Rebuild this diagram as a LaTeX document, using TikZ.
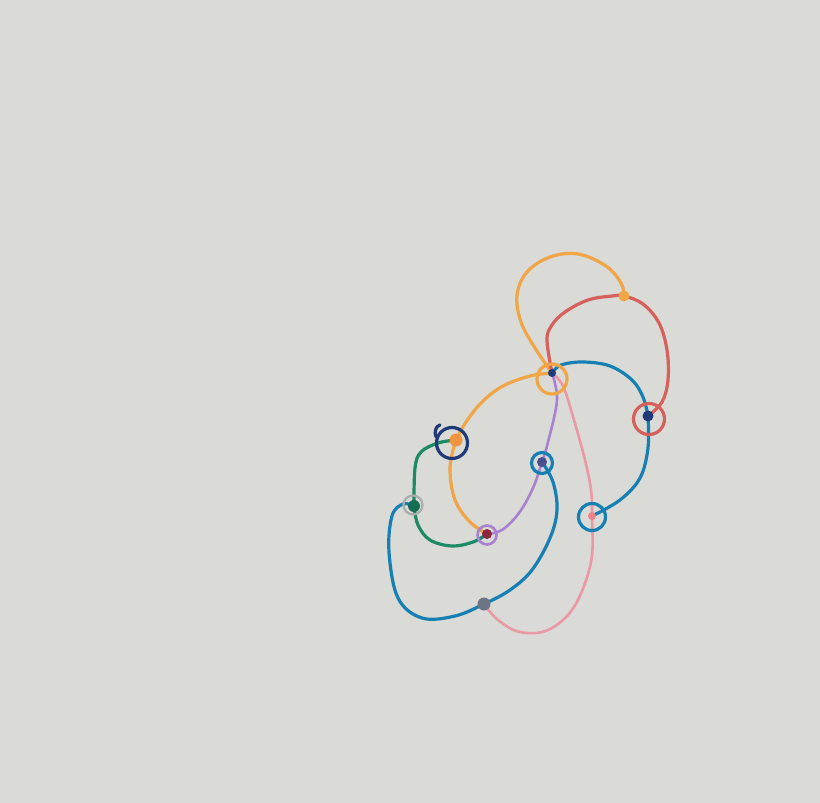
\documentclass[tikz,border=0pt]{standalone}
\usetikzlibrary{calc}
\definecolor{paper}{RGB}{218,218,214}
\definecolor{corange}{RGB}{240,165,70}
\definecolor{cred}{RGB}{214,96,92}
\definecolor{cteal}{RGB}{22,128,178}
\definecolor{cpink}{RGB}{234,152,164}
\definecolor{cpurple}{RGB}{168,130,208}
\definecolor{cgreen}{RGB}{28,138,100}
\definecolor{cnavy}{RGB}{32,58,120}
\definecolor{cgrey}{RGB}{110,116,132}
\definecolor{clgrey}{RGB}{170,172,176}
\begin{document}
\begin{tikzpicture}[x=1pt,y=-1pt,
  pen/.style={line width=3.2pt,line cap=round,line join=round},
  ring/.style={circle,draw,line width=3.2pt,inner sep=0pt},
  dot/.style={circle,fill,inner sep=0pt}]
\fill[paper] (0,0) rectangle (820,803);
\useasboundingbox (0,0) rectangle (820,803);
% junction points
\coordinate (A) at (552,373);
\coordinate (O) at (624,296);
\coordinate (B) at (648,416);
\coordinate (C) at (592,516);
\coordinate (D) at (456,440);
\coordinate (E) at (542,462);
\coordinate (F) at (487,534);
\coordinate (G) at (414,506);
\coordinate (H) at (484,604);
% curves
\draw[pen,corange] plot[smooth,tension=0.6] coordinates {(A) (535,348) (521,322) (517,295) (527,272) (550,257) (578,254) (606,266) (621,283) (O)};
\draw[pen,cred] plot[smooth,tension=0.6] coordinates {(A) (547,340) (552,325) (565,312) (588,300) (612,296) (O) (643,304) (659,323) (667,350) (668,380) (662,402) (B)};
\draw[pen,cteal] plot[smooth,tension=0.6] coordinates {(A) (561,365) (583,362) (610,366) (632,380) (643,397) (B)};
\draw[pen,cteal] plot[smooth,tension=0.6] coordinates {(B) (648,448) (640,478) (620,500) (C)};
\draw[pen,corange] plot[smooth,tension=0.6] coordinates {(A) (530,376) (503,386) (482,402) (466,422) (D)};
\draw[pen,corange] plot[smooth,tension=0.6] coordinates {(D) (450,468) (455,500) (470,522) (F)};
\draw[pen,cpink,line width=2.6pt] plot[smooth,tension=0.6] coordinates {(A) (563,386) (574,420) (585,460) (591,490) (C) (591,562) (574,607) (548,630) (520,632) (498,620) (H)};
\draw[pen,cpurple,line width=2.6pt] plot[smooth,tension=0.6] coordinates {(A) (557,400) (548,442) (E) (533,488) (519,513) (502,530) (F)};
\draw[pen,cteal] plot[smooth,tension=0.6] coordinates {(E) (553,482) (557,510) (550,538) (532,570) (510,590) (H) (455,616) (422,618) (398,598) (389,552) (392,516) (403,504) (G)};
\draw[pen,cgreen] plot[smooth,tension=0.6] coordinates {(G) (415,468) (421,452) (438,443) (D)};
\draw[pen,cgreen] plot[smooth,tension=0.6] coordinates {(G) (418,525) (430,540) (452,546) (473,542) (F)};
% rings
\node[ring,corange,minimum size=30pt] (rA) at (552,379) {};
\node[ring,cred,minimum size=31pt] (rB) at (649,419) {};
\node[ring,cteal,minimum size=27pt] (rC) at (592,517) {};
\node[ring,cnavy,minimum size=31pt] (rD) at (452,443) {};
\draw[pen,cnavy] (rD.north west) ++(0,-6) to[out=200,in=110] (436,437);
\node[ring,cteal,minimum size=21pt] (rE) at (542,463) {};
\node[ring,cpurple,minimum size=19pt,line width=2.6pt] (rF) at (487,535) {};
\node[ring,clgrey,minimum size=19pt,line width=2.2pt] (rG) at (413,505) {};
% dots
\node[dot,cnavy,minimum size=8pt] (dA) at (A) {};
\node[dot,corange,minimum size=11pt] (dO) at (O) {};
\node[dot,cnavy,minimum size=11pt] (dB) at (B) {};
\node[dot,cpink!85!red,minimum size=8pt] (dC) at (C) {};
\node[dot,corange!90!red,minimum size=13pt] (dD) at (D) {};
\node[dot,cnavy!70!cpurple,minimum size=10pt] (dE) at (E) {};
\node[dot,red!50!black!70!cpurple,minimum size=10pt] (dF) at (F) {};
\node[dot,cgreen!80!black,minimum size=12pt] (dG) at (G) {};
\node[dot,cgrey,minimum size=13pt] (dH) at (H) {};
\end{tikzpicture}
\end{document}
